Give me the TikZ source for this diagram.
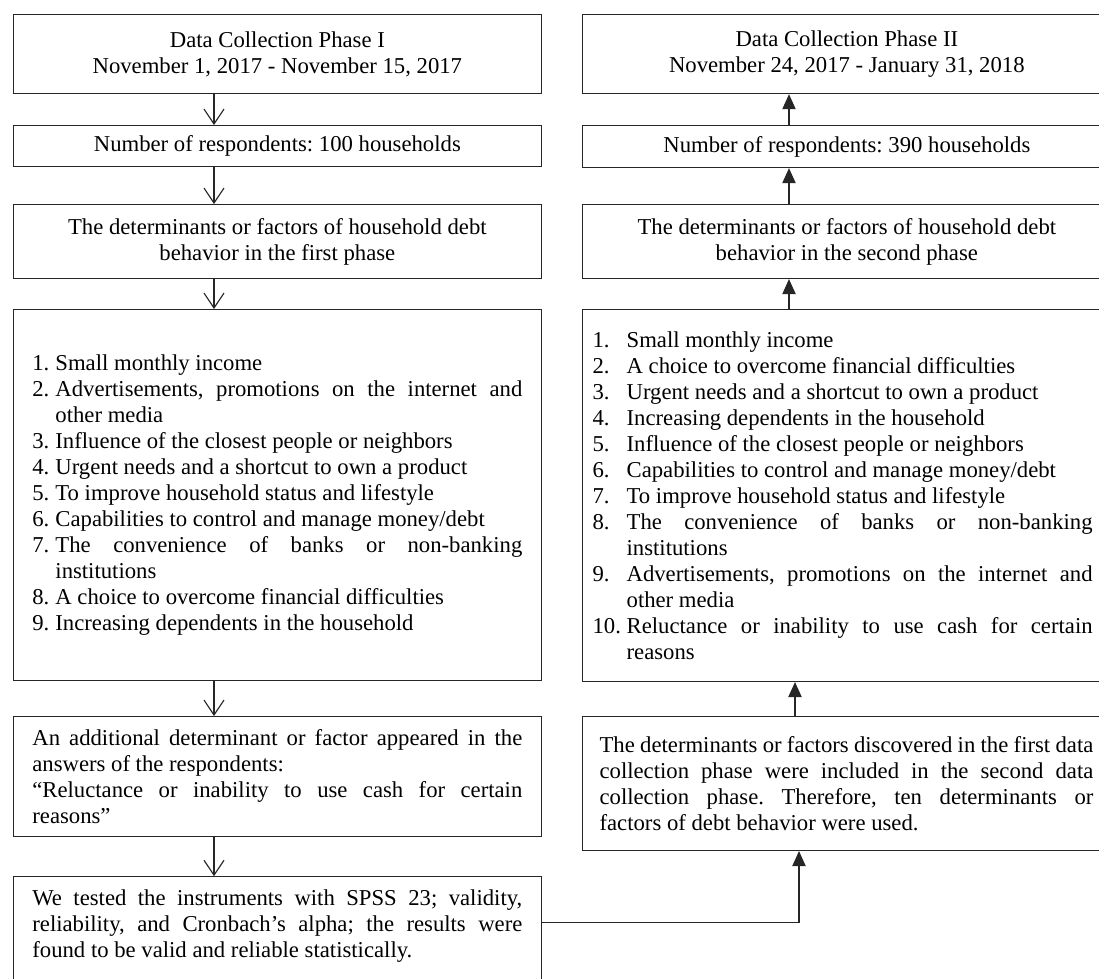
\documentclass[tikz,border=0pt]{standalone}
\usepackage{fontspec}
\setmainfont{Liberation Serif}
\usepackage{tikz}
\usetikzlibrary{arrows.meta}
\newcommand{\boxfont}{\fontsize{12}{13.75}\selectfont\fontdimen4\font=0pt\relax}
\tikzstyle{box} = [draw=black!85, line width=0.6pt, inner xsep=10.2pt, inner ysep=0pt, anchor=north west, font=\boxfont, execute at begin node={\spaceskip=0pt\xspaceskip=0pt}]
\tikzstyle{box_center} = [box, text width=259pt, align=center, execute at begin node={\spaceskip=\fontdimen2\font\relax}]
\tikzstyle{arrow_open} = [draw=black!85, line width=0.6pt, -{Straight Barb[length=7.9pt, width=10.6pt]}]
\tikzstyle{arrow_fill} = [draw=black!85, line width=0.6pt, -{Triangle[length=7.9pt, width=7pt]}]
\newlength{\itemhang}
\newcommand{\factoritem}[2]{\noindent\hangindent=\itemhang\hangafter=1\makebox[\itemhang][l]{#1}#2\par}
\hyphenpenalty=10000
\exhyphenpenalty=10000
\frenchspacing

\begin{document}
\begin{tikzpicture}[x=0.5286pt, y=-0.5286pt]
    \path[use as bounding box] (0,0) rectangle (1099,979);
    \clip (0,0) rectangle (1099,979);

    % first phase
    \node (phase1_head) [box_center, minimum height=41.8pt] at (12.5,14) {Data Collection Phase I\\November 1, 2017 - November 15, 2017};
    \node (phase1_count) [box_center, minimum height=21.7pt] at (12.5,125) {Number of respondents: 100 households};
    \node (phase1_factors) [box_center, minimum height=39.1pt] at (12.5,204) {The determinants or factors of household debt\\behavior in the first phase};
    \node (phase1_list) [box, minimum height=196.1pt, text width=259pt, align=justify] at (12.5,309) {\setlength{\itemhang}{12.2pt}%
        \factoritem{1.}{Small monthly income}
        \factoritem{2.}{Advertisements, promotions on the internet and other media}
        \factoritem{3.}{Influence of the closest people or neighbors}
        \factoritem{4.}{Urgent needs and a shortcut to own a product}
        \factoritem{5.}{To improve household status and lifestyle}
        \factoritem{6.}{Capabilities to control and manage money/debt}
        \factoritem{7.}{The convenience of banks or non-banking institutions}
        \factoritem{8.}{A choice to overcome financial difficulties}
        \factoritem{9.}{Increasing dependents in the household}};
    \node (phase1_extra) [box, minimum height=63.4pt, text width=259pt, align=justify] at (12.5,716) {An additional determinant or factor appeared in the answers of the respondents:\par “Reluctance or inability to use cash for certain reasons”};
    \node (phase1_test) [box, anchor=base west, inner ysep=6.6pt, text depth=43.6pt, text width=259pt, align=justify] at (12.5,905) {We tested the instruments with SPSS 23; validity, reliability, and Cronbach’s alpha; the results were found to be valid and reliable statistically.};

    % second phase
    \node (phase2_head) [box_center, minimum height=41.8pt] at (582,14) {Data Collection Phase II\\November 24, 2017 - January 31, 2018};
    \node (phase2_count) [box_center, minimum height=22.2pt] at (582,125) {Number of respondents: 390 households};
    \node (phase2_factors) [box_center, minimum height=39.1pt] at (582,204) {The determinants or factors of household debt\\behavior in the second phase};
    \node (phase2_list) [box, inner xsep=5.3pt, minimum height=196.6pt, text width=264.3pt, align=justify] at (582,309) {\setlength{\itemhang}{18pt}%
        \factoritem{1.}{Small monthly income}
        \factoritem{2.}{A choice to overcome financial difficulties}
        \factoritem{3.}{Urgent needs and a shortcut to own a product}
        \factoritem{4.}{Increasing dependents in the household}
        \factoritem{5.}{Influence of the closest people or neighbors}
        \factoritem{6.}{Capabilities to control and manage money/debt}
        \factoritem{7.}{To improve household status and lifestyle}
        \factoritem{8.}{The convenience of banks or non-banking institutions}
        \factoritem{9.}{Advertisements, promotions on the internet and other media}
        \factoritem{10.}{Reluctance or inability to use cash for certain reasons}};
    \node (phase2_merge) [box, inner xsep=9pt, minimum height=70.8pt, text width=261pt, align=justify, execute at begin node={\spaceskip=3pt plus 1.5pt minus 0.8pt}] at (582,716) {The determinants or factors discovered in the first data\linebreak collection phase were included in the second data\linebreak collection phase. Therefore, ten determinants or\linebreak factors of debt behavior were used.};

    \coordinate (left_axis) at (214,0);
    \coordinate (right_axis) at (789,0);
    \coordinate (right_axis_low) at (795,0);
    \coordinate (merge_axis) at (799,0);

    \draw [arrow_open] (phase1_head.south -| left_axis) -- (phase1_count.north -| left_axis);
    \draw [arrow_open] (phase1_count.south -| left_axis) -- (phase1_factors.north -| left_axis);
    \draw [arrow_open] (phase1_factors.south -| left_axis) -- (phase1_list.north -| left_axis);
    \draw [arrow_open] (phase1_list.south -| left_axis) -- (phase1_extra.north -| left_axis);
    \draw [arrow_open] (phase1_extra.south -| left_axis) -- (phase1_test.north -| left_axis);

    \draw [arrow_fill] (phase2_count.north -| right_axis) -- (phase2_head.south -| right_axis);
    \draw [arrow_fill] (phase2_factors.north -| right_axis) -- (phase2_count.south -| right_axis);
    \draw [arrow_fill] (phase2_list.north -| right_axis) -- (phase2_factors.south -| right_axis);
    \draw [arrow_fill] (phase2_merge.north -| right_axis_low) -- (phase2_list.south -| right_axis_low);
    \draw [arrow_fill] (phase1_test.north east) ++(0,46) -| (phase2_merge.south -| merge_axis);
\end{tikzpicture}
\end{document}
